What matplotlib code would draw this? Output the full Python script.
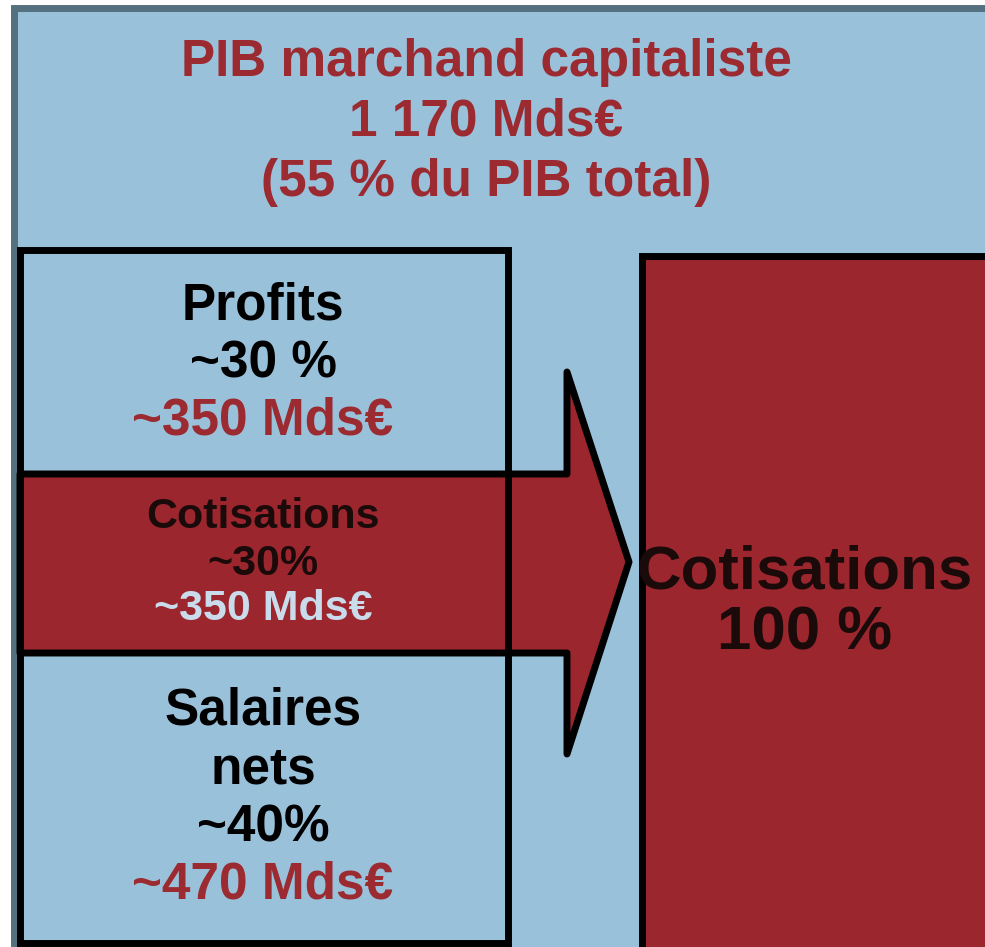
import matplotlib
matplotlib.use("Agg")
import matplotlib.pyplot as plt
from matplotlib.patches import Rectangle, Polygon

# texts
title_lines = ["PIB marchand capitaliste", "1 170 Mds€", "(55 % du PIB total)"]
parts = ["Profits", "Cotisations", "Salaires\nnets"]
shares = ["~30 %", "~30%", "~40%"]
amounts = ["~350 Mds€", "~350 Mds€", "~470 Mds€"]
right_label = ["Cotisations", "100 %"]

BLUE = "#9ac1da"
RED = "#9b262e"
TXT_RED = "#9b2a31"
LIGHT = "#cadcec"

plt.rcParams['font.family'] = ['Liberation Sans', 'DejaVu Sans']

fig = plt.figure(figsize=(9.85, 9.47), dpi=100)
ax = fig.add_axes([0, 0, 1, 1])
ax.set_xlim(0, 985)
ax.set_ylim(947, 0)
ax.axis('off')

# outer frame
ax.add_patch(Rectangle((14, 8), 990, 960, facecolor=BLUE, edgecolor="#55707f", lw=5))

# left column sections (top, height)
sect_y = [250, 474, 653]
sect_h = [224, 179, 290]
left_x0, left_x1 = 20, 508

# arrow for cotisations band
ay0, ay1 = sect_y[1], sect_y[1] + sect_h[1]
arrow = [(left_x0, ay0), (567, ay0), (567, 372), (629, 562),
         (567, 754), (567, ay1), (left_x0, ay1)]
ax.add_patch(Polygon(arrow, closed=True, facecolor=RED, edgecolor="black",
                     lw=5, joinstyle='round'))

# left box outline
ax.add_patch(Rectangle((left_x0, sect_y[0]), left_x1 - left_x0, 943 - sect_y[0],
                       facecolor='none', edgecolor='black', lw=5))

# right box
ax.add_patch(Rectangle((642, 256), 400, 700, facecolor=RED, edgecolor='black', lw=5))

BIG = 37
MID = 31

# title
for i, t in enumerate(title_lines):
    ax.text(486, 62 + i * 60, t, color=TXT_RED, fontsize=BIG, fontweight='bold',
            ha='center', va='center')

cx = 263
# profits
ax.text(cx, 306, parts[0], fontsize=BIG, fontweight='bold', ha='center', va='center')
ax.text(cx, 364, shares[0], fontsize=BIG, fontweight='bold', ha='center', va='center')
ax.text(cx, 421, amounts[0], color=TXT_RED, fontsize=BIG, fontweight='bold',
        ha='center', va='center')

# cotisations band
ax.text(cx, 517, parts[1], fontsize=MID, fontweight='bold', ha='center', va='center',
        color="#1a0a0a")
ax.text(cx, 564, shares[1], fontsize=MID, fontweight='bold', ha='center', va='center',
        color="#1a0a0a")
ax.text(cx, 609, amounts[1], color=LIGHT, fontsize=MID, fontweight='bold',
        ha='center', va='center')

# salaires
sal = parts[2].split("\n")
ax.text(cx, 711, sal[0], fontsize=BIG, fontweight='bold', ha='center', va='center')
ax.text(cx, 770, sal[1], fontsize=BIG, fontweight='bold', ha='center', va='center')
ax.text(cx, 828, shares[2], fontsize=BIG, fontweight='bold', ha='center', va='center')
ax.text(cx, 885, amounts[2], color=TXT_RED, fontsize=BIG, fontweight='bold',
        ha='center', va='center')

# right label
ax.text(805, 573, right_label[0], fontsize=44.5, fontweight='bold', ha='center',
        va='center', color="#1a0a0a")
ax.text(805, 634, right_label[1], fontsize=44.5, fontweight='bold', ha='center',
        va='center', color="#1a0a0a")

fig.savefig("out.png", dpi=100)
